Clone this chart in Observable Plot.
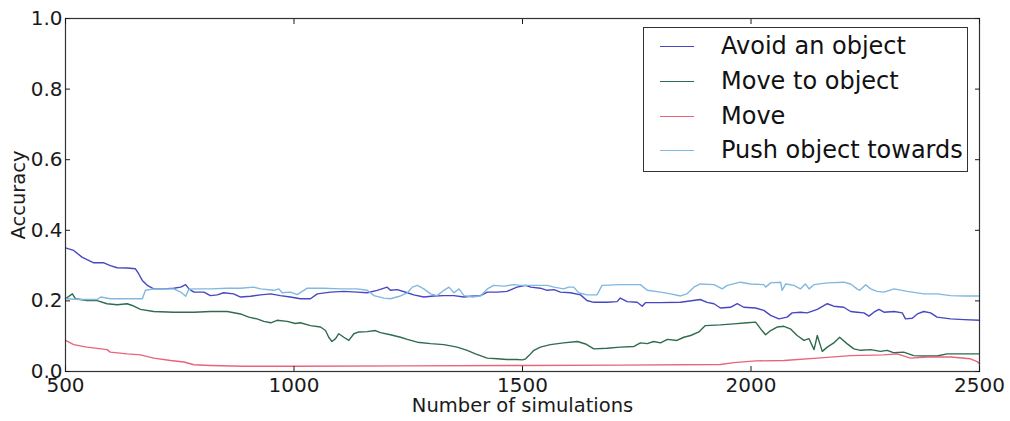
<!DOCTYPE html>
<html>
<head>
<meta charset="utf-8">
<script src="https://cdn.jsdelivr.net/npm/d3@7"></script>
<script src="https://cdn.jsdelivr.net/npm/@observablehq/plot@0.6"></script>
<style>
  html, body { margin: 0; padding: 0; background: #fff; }
  #wrap { position: relative; width: 1010px; height: 421px; font-family: "DejaVu Sans", sans-serif; }
  #legend {
    position: absolute; left: 643px; top: 27px; width: 325px; height: 145px;
    border: 1px solid #333; background: #fff; box-sizing: border-box;
  }
  .row { position: absolute; left: 0; height: 30px; }
  .swatch { position: absolute; left: 16px; width: 34px; height: 0; border-top: 1.4px solid; }
  .lab { position: absolute; left: 77px; top: 0; font-size: 24px; color: #111; white-space: nowrap; line-height: 30px; }
</style>
</head>
<body>
<div id="wrap">
  <div id="chart"></div>
  <div id="legend"></div>
</div>
<script>
// Accuracy of each command type as the number of simulations grows
const seriesNames = ["Avoid an object", "Move to object", "Move", "Push object towards"];
const seriesColors = ["#4747c2", "#2f6b4d", "#e8647a", "#80b9e0"];

const xTicks = [500, 1000, 1500, 2000, 2500];
const yTicks = [0, 0.2, 0.4, 0.6, 0.8, 1.0];

// [number of simulations, accuracy]
const avoidAnObject = [
  [500,.350],[518,.343],[536,.324],[547,.317],[562,.308],[584,.308],[598,.300],[613,.294],[635,.293],[653,.291],
  [660,.277],[668,.258],[679,.244],[693,.234],[715,.234],[737,.236],[752,.239],[763,.246],[770,.234],[781,.225],
  [803,.225],[817,.215],[832,.217],[846,.223],[868,.220],[883,.211],[905,.213],[927,.217],[949,.220],[970,.215],
  [992,.211],[1014,.206],[1036,.206],[1051,.220],[1080,.225],[1109,.227],[1138,.225],[1160,.223],[1182,.230],[1204,.239],
  [1211,.230],[1226,.232],[1248,.223],[1262,.217],[1284,.211],[1306,.214],[1328,.215],[1350,.215],[1372,.211],[1386,.213],
  [1408,.215],[1423,.225],[1445,.225],[1466,.227],[1488,.239],[1507,.244],[1518,.239],[1539,.236],[1554,.230],[1569,.232],
  [1583,.225],[1605,.223],[1627,.217],[1641,.201],[1656,.196],[1685,.196],[1707,.198],[1714,.208],[1729,.198],[1751,.196],
  [1762,.185],[1769,.195],[1802,.195],[1846,.196],[1889,.204],[1904,.196],[1919,.192],[1933,.180],[1955,.182],[1970,.192],
  [1984,.182],[2010,.180],[2028,.173],[2043,.159],[2061,.149],[2079,.154],[2090,.166],[2108,.168],[2123,.166],[2145,.176],
  [2167,.192],[2181,.185],[2203,.182],[2218,.170],[2232,.168],[2247,.166],[2258,.157],[2269,.168],[2280,.176],[2291,.168],
  [2313,.170],[2331,.166],[2338,.149],[2353,.151],[2364,.163],[2378,.170],[2393,.166],[2407,.154],[2437,.149],[2466,.147],
  [2500,.145]
];

const moveToObject = [
  [500,.206],[515,.220],[522,.206],[547,.201],[569,.201],[591,.192],[613,.189],[635,.192],[646,.187],[664,.176],
  [693,.170],[737,.168],[781,.168],[817,.170],[854,.170],[883,.163],[901,.154],[919,.149],[934,.142],[949,.138],
  [963,.145],[985,.142],[1003,.136],[1014,.138],[1036,.130],[1058,.126],[1069,.116],[1076,.097],[1083,.085],[1091,.093],
  [1098,.107],[1109,.097],[1120,.088],[1131,.107],[1142,.112],[1160,.113],[1178,.116],[1189,.110],[1211,.104],[1233,.097],
  [1248,.091],[1270,.083],[1299,.079],[1328,.076],[1357,.069],[1379,.060],[1397,.050],[1423,.038],[1445,.036],[1466,.034],
  [1488,.034],[1500,.033],[1507,.036],[1514,.045],[1525,.060],[1539,.069],[1561,.076],[1590,.081],[1620,.085],[1638,.078],
  [1656,.064],[1685,.066],[1714,.069],[1744,.071],[1758,.081],[1773,.079],[1787,.085],[1802,.081],[1817,.091],[1838,.088],
  [1853,.097],[1868,.102],[1886,.112],[1900,.130],[1933,.132],[1962,.135],[1992,.138],[2010,.140],[2013,.135],[2024,.116],
  [2032,.104],[2043,.116],[2057,.126],[2072,.128],[2086,.121],[2101,.102],[2116,.088],[2127,.093],[2138,.062],[2145,.102],
  [2156,.057],[2167,.069],[2181,.081],[2194,.097],[2210,.079],[2225,.064],[2240,.060],[2262,.062],[2283,.057],[2298,.060],
  [2313,.053],[2334,.055],[2356,.045],[2378,.044],[2407,.044],[2429,.050],[2466,.050],[2500,.050]
];

const move = [
  [500,.088],[518,.076],[547,.069],[591,.062],[598,.055],[635,.050],[664,.047],[693,.038],[730,.031],[759,.027],
  [781,.019],[817,.017],[890,.015],[1000,.015],[1250,.016],[1500,.017],[1714,.018],[1933,.020],[1962,.025],[2010,.030],
  [2072,.031],[2145,.038],[2218,.045],[2291,.047],[2320,.050],[2349,.038],[2386,.041],[2437,.041],[2480,.036],[2495,.028],
  [2500,.022]
];

const pushObjectTowards = [
  [500,.206],[533,.204],[569,.204],[577,.211],[598,.206],[635,.206],[668,.206],[675,.230],[693,.234],[737,.234],
  [752,.225],[763,.213],[770,.233],[781,.234],[817,.234],[854,.236],[883,.236],[912,.239],[927,.234],[956,.230],
  [967,.234],[974,.223],[992,.225],[1007,.218],[1029,.236],[1065,.236],[1102,.234],[1138,.234],[1160,.230],[1175,.215],
  [1197,.208],[1211,.206],[1233,.214],[1248,.223],[1259,.239],[1270,.244],[1284,.234],[1299,.220],[1313,.215],[1328,.230],
  [1339,.239],[1350,.223],[1361,.234],[1372,.215],[1390,.211],[1408,.214],[1423,.234],[1437,.244],[1459,.242],[1481,.246],
  [1496,.244],[1525,.244],[1554,.244],[1569,.239],[1590,.234],[1601,.239],[1612,.239],[1623,.223],[1641,.217],[1663,.217],
  [1674,.244],[1714,.246],[1758,.246],[1773,.230],[1802,.225],[1824,.220],[1846,.214],[1860,.220],[1875,.239],[1889,.248],
  [1919,.246],[1937,.234],[1948,.244],[1977,.253],[1999,.248],[2028,.246],[2032,.239],[2043,.251],[2065,.253],[2068,.230],
  [2076,.248],[2094,.244],[2108,.234],[2119,.248],[2127,.234],[2138,.246],[2167,.251],[2203,.253],[2218,.248],[2232,.234],
  [2238,.230],[2251,.246],[2262,.234],[2276,.227],[2291,.225],[2313,.234],[2342,.227],[2378,.220],[2407,.220],[2437,.215],
  [2466,.214],[2500,.214]
];

const seriesData = [avoidAnObject, moveToObject, move, pushObjectTowards];

const rows = seriesData.flatMap((pts, i) =>
  pts.map(([x, y]) => ({series: seriesNames[i], x, y}))
);

const chart = Plot.plot({
  width: 1010,
  height: 421,
  marginLeft: 65,
  marginRight: 31,
  marginTop: 18,
  marginBottom: 50,
  style: {fontFamily: "DejaVu Sans, sans-serif", fontSize: "18px", color: "#1a1a1a", background: "#fff"},
  x: {domain: [500, 2500]},
  y: {domain: [0, 1]},
  color: {domain: seriesNames, range: seriesColors},
  marks: [
    Plot.line(rows, {x: "x", y: "y", z: "series", stroke: "series", strokeWidth: 1.4}),
    Plot.frame({stroke: "#333", strokeWidth: 1.2}),
    Plot.axisX(xTicks, {anchor: "bottom", tickSize: -5, tickPadding: 11, tickFormat: d3.format("d"), label: null, fontSize: 20}),
    Plot.axisX(xTicks, {anchor: "top", tickSize: -5, tickFormat: () => "", label: null}),
    Plot.axisY(yTicks, {anchor: "left", tickSize: -5, tickPadding: 8, tickFormat: d3.format(".1f"), label: null, fontSize: 20}),
    Plot.axisY(yTicks, {anchor: "right", tickSize: -5, tickFormat: () => "", label: null}),
    Plot.text(["Number of simulations"], {text: d => d, frameAnchor: "bottom", dy: 40, fontSize: 19.5}),
    Plot.text(["Accuracy"], {text: d => d, frameAnchor: "left", textAnchor: "middle", rotate: -90, dx: -47, fontSize: 19.5})
  ]
});
document.getElementById("chart").append(chart);

// Legend entries
const legend = document.getElementById("legend");
const rowTops = [3, 38, 73, 107];
seriesNames.forEach((name, i) => {
  const row = document.createElement("div");
  row.className = "row";
  row.style.top = rowTops[i] + "px";
  const sw = document.createElement("div");
  sw.className = "swatch";
  sw.style.borderColor = seriesColors[i];
  sw.style.top = "15px";
  const lab = document.createElement("div");
  lab.className = "lab";
  lab.textContent = name;
  row.append(sw, lab);
  legend.append(row);
});
</script>
</body>
</html>
